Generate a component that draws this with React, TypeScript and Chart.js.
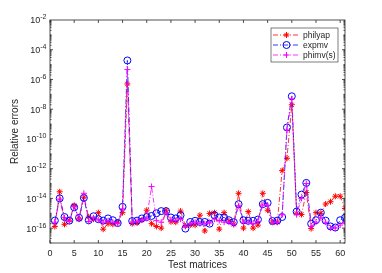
import React, { useEffect, useRef } from "react";
import { Chart, registerables } from "chart.js";

Chart.register(...registerables);

const testMatrices = [
  1, 2, 3, 4, 5, 6, 7, 8, 9, 10, 11, 12, 13, 14, 15, 16, 17, 18, 19, 20,
  21, 22, 23, 24, 25, 26, 27, 28, 29, 30, 31, 32, 33, 34, 35, 36, 37, 38, 39, 40,
  41, 42, 43, 44, 45, 46, 47, 48, 49, 50, 51, 52, 53, 54, 55, 56, 57, 58, 59, 60, 61,
];

const philyap = [
  1.3e-16, 2.8e-14, 1.8e-16, 3.4e-16, 3.4e-15, 4.0e-16, 1.2e-14, 5.6e-16, 4.0e-16, 1.1e-15,
  8.5e-17, 2.0e-16, 1.8e-16, 2.5e-16, 1.1e-15, 5.0e-7, 2.0e-16, 2.2e-16, 3.5e-16, 1.6e-15,
  2.0e-16, 1.3e-16, 1.0e-16, 1.6e-15, 2.7e-16, 2.5e-16, 1.4e-15, 1.4e-16, 1.6e-16, 1.6e-16,
  7.4e-16, 6.5e-17, 9.8e-16, 1.1e-15, 8.5e-17, 1.1e-15, 3.0e-16, 1.8e-16, 2.2e-14, 1.0e-16,
  1.3e-15, 1.0e-16, 1.6e-16, 2.2e-14, 1.6e-15, 2.5e-16, 2.5e-16, 7.4e-13, 5.0e-12, 2.0e-8,
  1.0e-15, 8.3e-16, 2.5e-14, 9.3e-17, 1.1e-15, 1.0e-15, 4.2e-15, 6.0e-15, 1.4e-14, 1.4e-14,
  2.1e-15,
];

const expmv = [
  3.2e-16, 1.0e-14, 5.6e-16, 3.2e-16, 2.5e-15, 5.0e-16, 1.1e-14, 3.4e-16, 6.3e-16, 4.0e-16,
  3.2e-16, 4.5e-16, 3.4e-16, 2.2e-16, 2.7e-15, 1.9e-5, 3.0e-16, 3.2e-16, 4.5e-16, 5.6e-16,
  6.6e-16, 1.0e-15, 1.4e-15, 1.4e-15, 5.2e-16, 4.5e-16, 7.4e-16, 9.3e-17, 2.6e-16, 3.1e-16,
  2.6e-16, 2.6e-16, 2.0e-16, 7.4e-16, 5.2e-16, 5.2e-16, 3.4e-16, 2.5e-16, 4.1e-15, 3.4e-16,
  3.1e-16, 3.1e-16, 3.8e-16, 4.1e-15, 5.0e-15, 3.0e-16, 3.2e-16, 5.6e-16, 5.9e-10, 7.4e-8,
  1.3e-15, 1.8e-14, 1.1e-13, 2.0e-16, 3.4e-16, 1.1e-15, 3.2e-16, 1.3e-16, 1.1e-16, 3.4e-16,
  5.0e-16,
];

const phimvS = [
  2.5e-16, 9.0e-15, 5.0e-16, 2.8e-16, 2.8e-15, 4.5e-16, 2.2e-14, 2.8e-16, 5.0e-16, 3.5e-16,
  2.5e-16, 3.2e-16, 2.5e-16, 2.0e-16, 2.0e-15, 4.7e-6, 2.5e-16, 2.8e-16, 3.5e-16, 4.5e-16,
  6.3e-14, 3.2e-16, 2.5e-16, 1.0e-15, 3.5e-16, 3.2e-16, 4.0e-16, 1.3e-16, 2.0e-16, 2.5e-16,
  2.0e-16, 2.0e-16, 2.2e-16, 4.0e-16, 3.2e-16, 2.5e-16, 2.5e-16, 1.8e-16, 3.2e-15, 2.5e-16,
  2.5e-16, 2.0e-16, 2.8e-16, 3.5e-15, 3.5e-15, 2.5e-16, 2.5e-16, 8.0e-16, 4.0e-10, 5.0e-8,
  8.0e-16, 1.0e-14, 1.0e-13, 1.3e-16, 2.5e-16, 5.0e-16, 2.5e-16, 1.0e-16, 1.0e-16, 1.6e-16,
  2.5e-16,
];

const seriesNames = ["philyap", "expmv", "phimv(s)"];
const seriesColors = ["#ff0000", "#0000ff", "#ff00ff"];
const seriesMarkers = ["star", "circle", "cross"];

const xTickValues = [0, 5, 10, 15, 20, 25, 30, 35, 40, 45, 50, 55, 60];
const yTickExponents = [-2, -4, -6, -8, -10, -12, -14, -16];

const FONT = "'Liberation Sans', Arial, Helvetica, sans-serif";
const TEXT = "#262626";
const AXIS = "#262626";
const DASH = [5, 2, 1, 2];

function drawMarker(ctx: CanvasRenderingContext2D, kind: string, x: number, y: number, r: number, color: string) {
  ctx.save();
  ctx.setLineDash([]);
  ctx.strokeStyle = color;
  ctx.lineWidth = 1;
  ctx.beginPath();
  if (kind === "circle") {
    ctx.arc(x, y, r, 0, Math.PI * 2);
  } else if (kind === "cross") {
    ctx.moveTo(x - r, y); ctx.lineTo(x + r, y);
    ctx.moveTo(x, y - r); ctx.lineTo(x, y + r);
  } else {
    const d = r * Math.SQRT1_2;
    ctx.moveTo(x - r, y); ctx.lineTo(x + r, y);
    ctx.moveTo(x, y - r); ctx.lineTo(x, y + r);
    ctx.moveTo(x - d, y - d); ctx.lineTo(x + d, y + d);
    ctx.moveTo(x - d, y + d); ctx.lineTo(x + d, y - d);
  }
  ctx.stroke();
  ctx.restore();
}

const framePlugin = {
  id: "matlabFrame",
  afterDraw(chart: any) {
    const { ctx, chartArea } = chart;
    const { left, right, top, bottom } = chartArea;
    const xs = chart.scales.x;
    const ys = chart.scales.y;
    ctx.save();
    ctx.setLineDash([]);
    ctx.strokeStyle = AXIS;
    ctx.lineWidth = 0.8;
    ctx.strokeRect(left, top, right - left, bottom - top);

    ctx.beginPath();
    xTickValues.forEach((v) => {
      const px = xs.getPixelForValue(v);
      ctx.moveTo(px, bottom); ctx.lineTo(px, bottom - 3);
      ctx.moveTo(px, top); ctx.lineTo(px, top + 3);
    });
    for (let e = -17; e < -2; e++) {
      for (let k = 1; k < 10; k++) {
        const py = ys.getPixelForValue(k * Math.pow(10, e));
        const major = k === 1 && yTickExponents.indexOf(e) >= 0;
        const len = major ? 3 : 1.5;
        ctx.moveTo(left, py); ctx.lineTo(left + len, py);
        ctx.moveTo(right, py); ctx.lineTo(right - len, py);
      }
    }
    ctx.stroke();

    // y tick labels with superscript exponents
    ctx.fillStyle = TEXT;
    ctx.textBaseline = "middle";
    yTickExponents.forEach((e) => {
      const py = ys.getPixelForValue(Math.pow(10, e));
      const expText = "-" + Math.abs(e);
      ctx.font = `7px ${FONT}`;
      const ew = ctx.measureText(expText).width;
      const edge = 46.5;
      ctx.textAlign = "left";
      ctx.fillText(expText, edge - ew, py - 2.5);
      ctx.font = `9px ${FONT}`;
      ctx.textAlign = "right";
      ctx.fillText("10", edge - ew, py + 1);
    });

    // legend
    const bx = 271, by = 28, bw = 67, bh = 34;
    ctx.fillStyle = "#ffffff";
    ctx.fillRect(bx, by, bw, bh);
    ctx.strokeStyle = "#262626";
    ctx.lineWidth = 0.6;
    ctx.strokeRect(bx, by, bw, bh);
    seriesNames.forEach((name, i) => {
      const y = 35 + i * 10;
      ctx.save();
      ctx.strokeStyle = seriesColors[i];
      ctx.lineWidth = 0.8;
      ctx.setLineDash(DASH);
      ctx.beginPath();
      ctx.moveTo(273, y); ctx.lineTo(300, y);
      ctx.stroke();
      ctx.restore();
      drawMarker(ctx, seriesMarkers[i], 286.5, y, i === 1 ? 3.5 : 3, seriesColors[i]);
      ctx.fillStyle = TEXT;
      ctx.font = `8.5px ${FONT}`;
      ctx.textAlign = "left";
      ctx.textBaseline = "middle";
      ctx.fillText(name, 303, y + 0.5);
    });
    ctx.restore();
  },
};

export default function App() {
  const canvasRef = useRef<HTMLCanvasElement | null>(null);

  useEffect(() => {
    const canvas = canvasRef.current;
    if (!canvas) return;
    const seriesValues = [philyap, expmv, phimvS];
    const chart = new Chart(canvas, {
      type: "line",
      data: {
        datasets: seriesValues.map((vals, i) => ({
          label: seriesNames[i],
          data: testMatrices.map((x, j) => ({ x, y: vals[j] })),
          borderColor: seriesColors[i],
          backgroundColor: "transparent",
          borderWidth: 0.8,
          borderDash: DASH,
          tension: 0,
          fill: false,
          pointStyle: seriesMarkers[i] as any,
          pointRadius: i === 1 ? 3.5 : 3,
          pointBorderWidth: 1,
          pointBorderColor: seriesColors[i],
          pointBackgroundColor: "transparent",
          order: 3 - i,
        })),
      },
      options: {
        animation: false,
        responsive: false,
        devicePixelRatio: 1,
        layout: { padding: { top: 20, right: 37, left: 0, bottom: 0 } },
        plugins: { legend: { display: false }, tooltip: { enabled: false } },
        scales: {
          x: {
            type: "linear",
            min: 0,
            max: 61,
            afterBuildTicks: (s: any) => {
              s.ticks = xTickValues.map((v) => ({ value: v }));
            },
            afterFit: (s: any) => {
              s.height = 30;
            },
            grid: { display: false, drawTicks: false },
            border: { display: false },
            ticks: {
              padding: 5,
              color: TEXT,
              font: { family: FONT, size: 9 },
              maxRotation: 0,
              autoSkip: false,
            },
            title: {
              display: true,
              text: "Test matrices",
              color: TEXT,
              font: { family: FONT, size: 10 },
              padding: { top: 0, bottom: 2 },
            },
          },
          y: {
            type: "logarithmic",
            min: 1e-17,
            max: 1e-2,
            afterBuildTicks: (s: any) => {
              s.ticks = yTickExponents.map((e) => ({ value: Math.pow(10, e) }));
            },
            afterFit: (s: any) => {
              s.width = 50;
            },
            grid: { display: false, drawTicks: false },
            border: { display: false },
            ticks: { display: false },
            title: {
              display: true,
              text: "Relative errors",
              color: TEXT,
              font: { family: FONT, size: 10 },
              padding: { top: 9, bottom: 0 },
            },
          },
        },
      },
      plugins: [framePlugin],
    });
    return () => chart.destroy();
  }, []);

  return (
    <div style={{ position: "fixed", left: 0, top: 0, width: 382, height: 273, background: "#ffffff" }}>
      <canvas ref={canvasRef} width={382} height={273} style={{ display: "block" }} />
    </div>
  );
}
